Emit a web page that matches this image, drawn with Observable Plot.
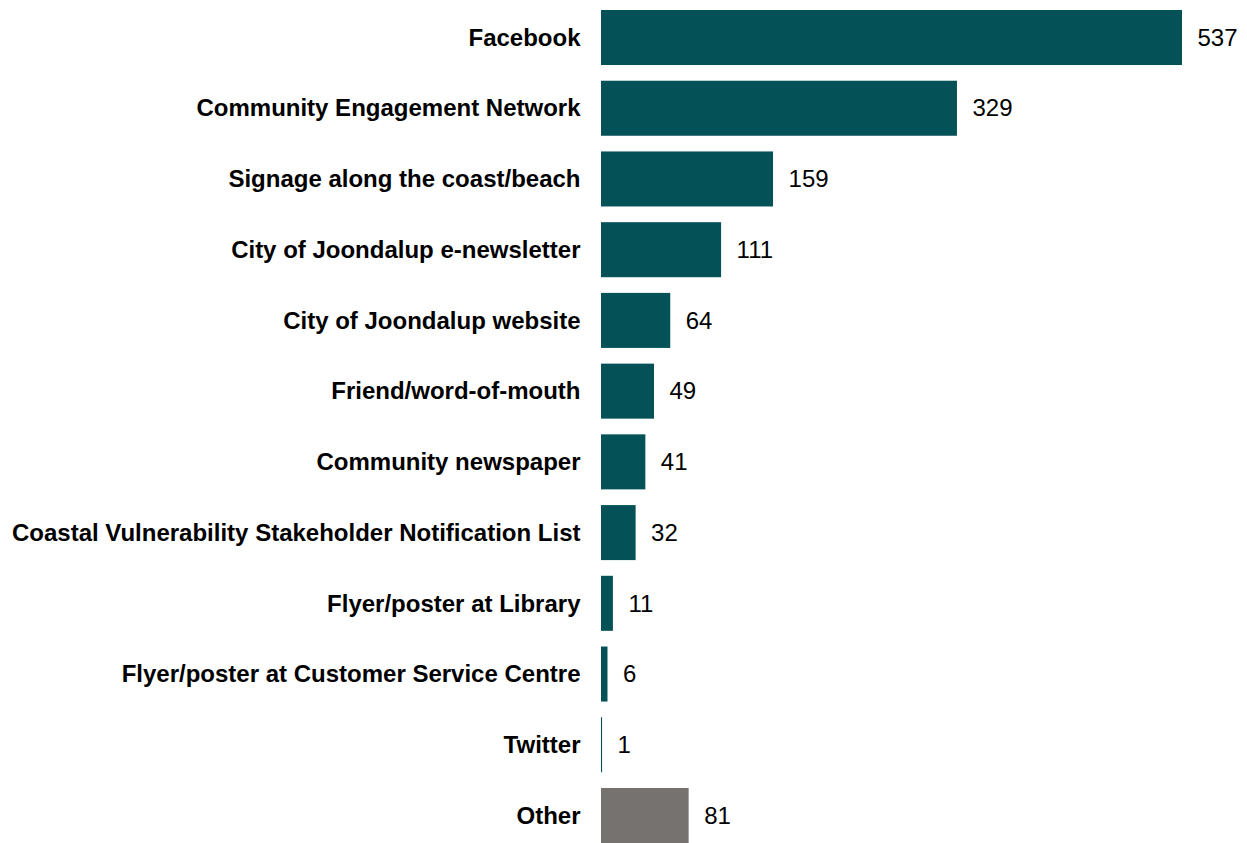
<!DOCTYPE html>
<html>
<head>
<meta charset="utf-8">
<script src="https://cdn.jsdelivr.net/npm/d3@7"></script>
<script src="https://cdn.jsdelivr.net/npm/@observablehq/plot@0.6"></script>
<style>
  html, body { margin: 0; padding: 0; background: #fff; }
  #chart svg { display: block; }
</style>
</head>
<body>
<div id="chart"></div>
<script>
const categories = [
  "Facebook",
  "Community Engagement Network",
  "Signage along the coast/beach",
  "City of Joondalup e-newsletter",
  "City of Joondalup website",
  "Friend/word-of-mouth",
  "Community newspaper",
  "Coastal Vulnerability Stakeholder Notification List",
  "Flyer/poster at Library",
  "Flyer/poster at Customer Service Centre",
  "Twitter",
  "Other"
];
const values = [537, 329, 159, 111, 64, 49, 41, 32, 11, 6, 1, 81];

const data = categories.map((c, i) => ({label: c, value: values[i]}));
const TEAL = "#045257";
const GRAY = "#767270";

const chart = Plot.plot({
  width: 1247,
  height: 843,
  marginLeft: 601,
  marginRight: 65,
  marginTop: 10,
  marginBottom: 0,
  style: {fontFamily: "'Liberation Sans', Arial, sans-serif", color: "#000", background: "#fff"},
  x: {domain: [0, 537], axis: null},
  y: {domain: categories, paddingInner: 0.222, paddingOuter: 0, round: false, axis: null},
  marks: [
    Plot.barX(data, {x: "value", y: "label", fill: d => d.label === "Other" ? GRAY : TEAL}),
    Plot.text(data, {x: "value", y: "label", text: d => String(d.value), dx: 15, textAnchor: "start", fontSize: 24, fill: "#000"}),
    Plot.axisY({tickSize: 0, tickPadding: 21, fontSize: 24, fontWeight: "bold", fill: "#000", label: null})
  ]
});
document.getElementById("chart").appendChild(chart);
</script>
</body>
</html>
